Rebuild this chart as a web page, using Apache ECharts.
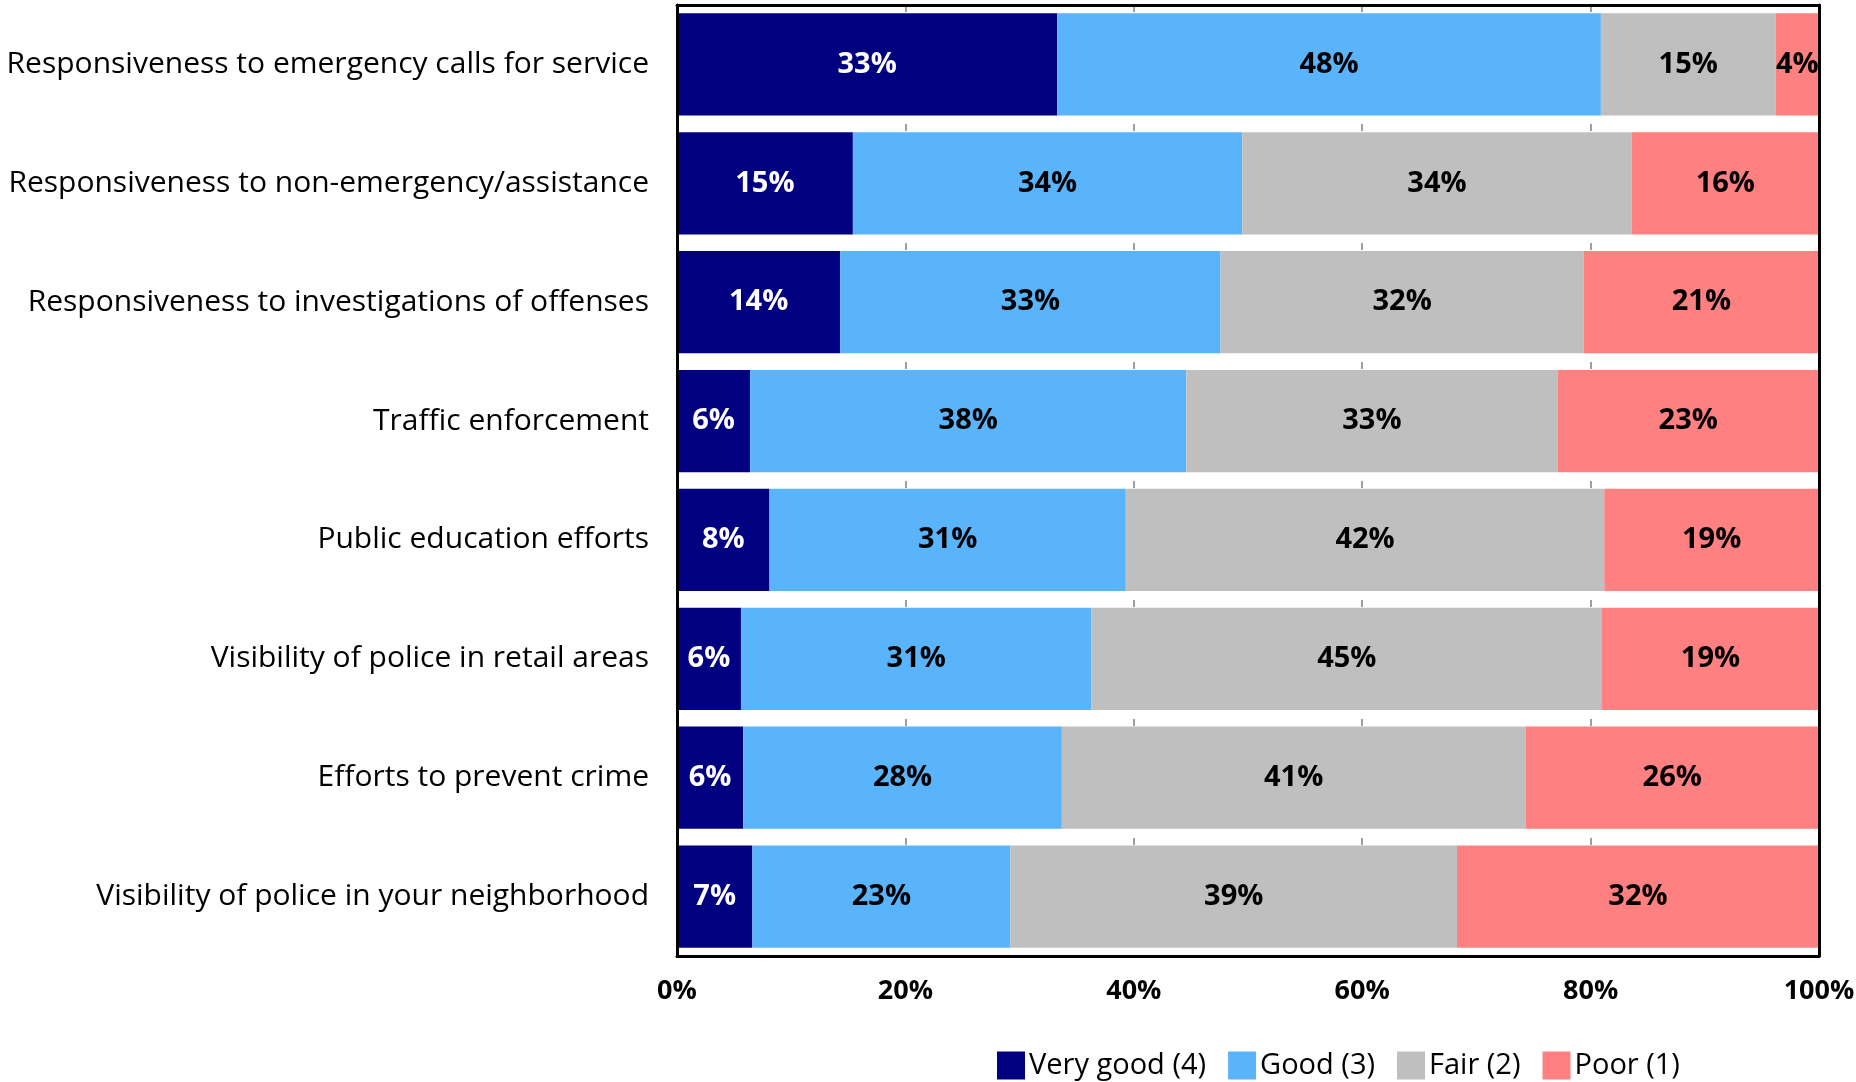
<!DOCTYPE html>
<html>
<head>
<meta charset="utf-8">
<script src="https://cdn.jsdelivr.net/npm/echarts@6/dist/echarts.min.js"></script>
<style>
html,body{margin:0;padding:0;background:#fff;}
#chart{width:1856px;height:1082px;}
</style>
</head>
<body>
<div id="chart"></div>
<script>
const categories = [
  'Responsiveness to emergency calls for service',
  'Responsiveness to non-emergency/assistance',
  'Responsiveness to investigations of offenses',
  'Traffic enforcement',
  'Public education efforts',
  'Visibility of police in retail areas',
  'Efforts to prevent crime',
  'Visibility of police in your neighborhood'
];
const seriesNames = ['Very good (4)', 'Good (3)', 'Fair (2)', 'Poor (1)'];
const veryGood = [33.3, 15.4, 14.3, 6.4, 8.1, 5.6, 5.8, 6.6];
const good     = [47.6, 34.1, 33.3, 38.2, 31.2, 30.7, 27.9, 22.6];
const fair     = [15.3, 34.1, 31.8, 32.5, 41.9, 44.7, 40.6, 39.1];
const poor     = [3.8, 16.4, 20.6, 22.9, 18.8, 19.0, 25.7, 31.7];
const xTicks = [0, 20, 40, 60, 80, 100];
const colors = ['#000080', '#5AB4FC', '#BFBFBF', '#FF8080'];
const labelColors = ['#FFFFFF', '#000000', '#000000', '#000000'];

const FONT = "'Open Sans', 'Noto Sans', sans-serif";
const chart = echarts.init(document.getElementById('chart'), null, {renderer: 'canvas'});

const dataSets = [veryGood, good, fair, poor];
const series = dataSets.map((d, i) => ({
  name: seriesNames[i],
  type: 'bar',
  stack: 'total',
  barCategoryGap: '14%',
  data: d,
  itemStyle: {color: colors[i]},
  label: {
    show: true,
    position: 'inside',
    color: labelColors[i],
    fontFamily: FONT,
    fontWeight: 'bold',
    fontSize: 29,
    formatter: p => Math.round(p.value) + '%'
  },
  emphasis: {disabled: true},
  animation: false
}));

chart.setOption({
  animation: false,
  backgroundColor: '#ffffff',
  textStyle: {fontFamily: FONT},
  grid: {
    left: 677, right: 37, top: 5, bottom: 126,
    containLabel: false,
    outerBoundsMode: 'none',
    show: true,
    backgroundColor: '#ffffff',
    borderWidth: 0
  },
  legend: {
    data: seriesNames,
    left: 992,
    top: 1046,
    itemWidth: 28,
    itemHeight: 28,
    itemGap: 22,
    icon: 'rect',
    textStyle: {fontFamily: FONT, fontSize: 29, color: '#000', padding: [0, 0, 0, -1]},
    selectedMode: false
  },
  xAxis: [{
    type: 'value',
    position: 'bottom',
    min: 0, max: 100, interval: 20,
    axisLine: {show: true, lineStyle: {color: '#000', width: 3}},
    axisTick: {show: false},
    splitLine: {show: true, lineStyle: {color: '#808080', width: 1.5, type: [7, 10]}},
    axisLabel: {
      formatter: v => xTicks.includes(v) ? v + '%' : '',
      fontFamily: FONT, fontWeight: 'bold', fontSize: 27, color: '#000', margin: 22
    },
    z: 0
  }, {
    type: 'value',
    position: 'top',
    min: 0, max: 100, interval: 20,
    axisLine: {show: true, onZero: false, lineStyle: {color: '#000', width: 3}},
    axisTick: {show: false},
    splitLine: {show: false},
    axisLabel: {show: false},
    z: 10
  }],
  yAxis: [{
    type: 'category',
    data: categories,
    inverse: true,
    position: 'left',
    axisLine: {show: true, onZero: false, lineStyle: {color: '#000', width: 3}},
    axisTick: {show: false},
    splitLine: {show: false},
    axisLabel: {fontFamily: FONT, fontSize: 30, color: '#000', margin: 28},
    z: 10
  }, {
    type: 'category',
    data: categories,
    inverse: true,
    position: 'right',
    axisLine: {show: true, onZero: false, lineStyle: {color: '#000', width: 3}},
    axisTick: {show: false},
    splitLine: {show: false},
    axisLabel: {show: false},
    z: 10
  }],
  series: series
});
</script>
</body>
</html>
